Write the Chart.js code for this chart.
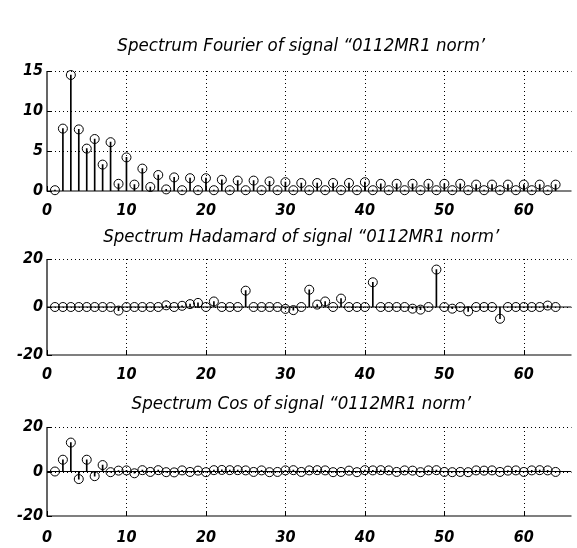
<!DOCTYPE html>
<html>
<head>
<meta charset="utf-8">
<script src="https://cdn.jsdelivr.net/npm/chart.js@4/dist/chart.umd.min.js"></script>
<style>
  html, body { margin: 0; padding: 0; background: #fff; overflow: hidden; }
  body { width: 577px; height: 548px; position: relative; }
  .panel { position: absolute; left: 0; width: 577px; }
</style>
</head>
<body>
<div class="panel" style="top:34px;height:189px"><canvas id="fourier"></canvas></div>
<div class="panel" style="top:225px;height:162px"><canvas id="hadamard"></canvas></div>
<div class="panel" style="top:392px;height:156px"><canvas id="cosine"></canvas></div>
<script>
// spectrum index 1..64
const bins = Array.from({ length: 64 }, (_, i) => i + 1);

const fourierVals = [
  0.1, 7.8, 14.5, 7.7, 5.3, 6.5, 3.3, 6.1, 0.9, 4.2,
  0.8, 2.8, 0.5, 2.0, 0.2, 1.7, 0.1, 1.6, 0.1, 1.6,
  0.1, 1.4, 0.1, 1.3, 0.1, 1.3, 0.1, 1.2, 0.1, 1.1,
  0.1, 1.0, 0.1, 1.0, 0.1, 1.0, 0.1, 1.0, 0.1, 1.1,
  0.1, 0.9, 0.1, 0.9, 0.1, 0.9, 0.1, 0.9, 0.1, 0.9,
  0.1, 0.9, 0.1, 0.8, 0.1, 0.8, 0.1, 0.8, 0.1, 0.8,
  0.1, 0.8, 0.1, 0.8
];

const hadamardVals = [
  0, 0, 0, 0, 0, 0, 0, 0, -1.5, 0,
  0, 0, 0, 0, 0.7, 0, 0.5, 1.2, 1.7, 0,
  2.3, 0, 0, 0, 6.8, 0, 0, 0, 0, -0.8,
  -1.3, 0, 7.2, 1.0, 2.3, 0, 3.5, 0, 0, 0,
  10.3, 0, 0, 0, 0, -0.7, -1.1, 0, 15.6, 0,
  -0.7, 0, -1.8, 0, 0, 0, -4.9, 0, 0, 0,
  0, 0, 0.6, 0
];

const cosVals = [
  0, 5.3, 13.0, -3.4, 5.3, -2.1, 2.9, -0.3, 0.4, 0.5,
  -0.8, 0.6, -0.2, 0.6, -0.3, -0.4, 0.5, -0.2, 0.4, -0.3,
  0.6, 0.7, 0.6, 0.6, 0.5, -0.2, 0.5, -0.3, -0.2, 0.5,
  0.6, -0.2, 0.5, 0.6, 0.5, -0.3, -0.2, 0.4, -0.3, 0.6,
  0.5, 0.6, 0.5, -0.2, 0.5, 0.4, -0.3, 0.5, 0.6, -0.2,
  -0.3, -0.2, -0.3, 0.5, 0.4, 0.5, -0.2, 0.4, 0.5, -0.2,
  0.5, 0.6, 0.5, -0.2
];

const xTicks = [0, 10, 20, 30, 40, 50, 60];
const X_MAX = 66;

const tickFont = { family: 'DejaVu Sans Condensed', size: 16, style: 'italic', weight: 'bold' };

// matlab look: dotted grid + short inward ticks under the stems, axes title on top
const matlabAxes = {
  id: 'matlabAxes',
  beforeDatasetsDraw(chart) {
    const { ctx, chartArea: a, scales: { x, y } } = chart;
    ctx.save();
    ctx.strokeStyle = '#000';
    ctx.lineWidth = 1;
    ctx.setLineDash([1, 3]);
    ctx.beginPath();
    x.ticks.forEach(t => {
      if (t.value === x.min) return;
      const px = Math.round(x.getPixelForValue(t.value)) + 0.5;
      ctx.moveTo(px, a.top);
      ctx.lineTo(px, a.bottom);
    });
    y.ticks.forEach(t => {
      if (t.value === y.min) return;
      const py = Math.round(y.getPixelForValue(t.value)) + 0.5;
      ctx.moveTo(a.left, py);
      ctx.lineTo(a.right, py);
    });
    ctx.stroke();

    ctx.setLineDash([]);
    ctx.beginPath();
    x.ticks.forEach(t => {
      const px = Math.round(x.getPixelForValue(t.value)) + 0.5;
      ctx.moveTo(px, a.bottom);
      ctx.lineTo(px, a.bottom - 5);
    });
    y.ticks.forEach(t => {
      const py = Math.round(y.getPixelForValue(t.value)) + 0.5;
      ctx.moveTo(a.left, py);
      ctx.lineTo(a.left + 5, py);
    });
    ctx.stroke();
    ctx.restore();
  },
  afterDraw(chart, args, opts) {
    const { ctx, chartArea: a } = chart;
    ctx.save();
    ctx.font = 'italic 18.5px "DejaVu Sans Condensed"';
    ctx.fillStyle = '#000';
    ctx.textAlign = 'center';
    ctx.textBaseline = 'middle';
    ctx.fillText(opts.text, (a.left + a.right) / 2 - 8, a.top - opts.gap);
    ctx.restore();
  }
};

function axisLine(points) {
  return {
    type: 'line',
    data: points,
    borderColor: '#000',
    borderWidth: 1.2,
    pointRadius: 0,
    clip: false,
    order: 4
  };
}

function stemChart(id, title, gap, padTop, tickPad, values, yMin, yMax, yStep, baseline) {
  const pts = bins.map((b, i) => ({ x: b, y: values[i] }));
  const datasets = [
    {
      type: 'scatter',
      data: pts,
      pointRadius: 4.5,
      pointBorderWidth: 1,
      pointBorderColor: '#000',
      pointBackgroundColor: 'rgba(0,0,0,0)',
      clip: false,
      order: 1
    },
    {
      type: 'bar',
      data: pts,
      barThickness: 1,
      backgroundColor: '#000',
      borderWidth: 0,
      order: 2
    },
    // left and bottom axes
    axisLine([{ x: 0, y: yMax }, { x: 0, y: yMin }, { x: X_MAX, y: yMin }])
  ];
  if (baseline) {
    datasets.push({
      type: 'line',
      data: [{ x: 0, y: 0 }, { x: X_MAX, y: 0 }],
      borderColor: '#000',
      borderWidth: 1,
      pointRadius: 0,
      order: 3
    });
  }

  return new Chart(document.getElementById(id), {
    type: 'scatter',
    data: { datasets },
    plugins: [matlabAxes],
    options: {
      responsive: true,
      maintainAspectRatio: false,
      animation: false,
      layout: { padding: { left: 0, right: 0, top: padTop, bottom: 0 } },
      plugins: {
        legend: { display: false },
        tooltip: { enabled: false },
        title: { display: false },
        matlabAxes: { text: title, gap: gap }
      },
      scales: {
        x: {
          type: 'linear',
          min: 0,
          max: X_MAX,
          offset: false,
          afterBuildTicks: s => { s.ticks = xTicks.map(v => ({ value: v })); },
          afterFit: s => { s.height = 32; },
          ticks: { color: '#000', font: tickFont, padding: tickPad, maxRotation: 0 },
          grid: { display: false, drawTicks: false },
          border: { display: false }
        },
        y: {
          min: yMin,
          max: yMax,
          afterFit: s => { s.width = 47; },
          ticks: { stepSize: yStep, color: '#000', font: tickFont, padding: 4 },
          grid: { display: false, drawTicks: false },
          border: { display: false }
        }
      }
    }
  });
}

stemChart('fourier',  'Spectrum Fourier of signal \u201C0112MR1 norm\u2019',  25, 37, 10, fourierVals,  0, 15, 5,  false);
stemChart('hadamard', 'Spectrum Hadamard of signal \u201C0112MR1 norm\u2019', 22, 34, 10, hadamardVals, -20, 20, 20, true);
stemChart('cosine',   'Spectrum Cos of signal \u201C0112MR1 norm\u2019',      23, 35, 12, cosVals,      -20, 20, 20, true);
</script>
</body>
</html>
